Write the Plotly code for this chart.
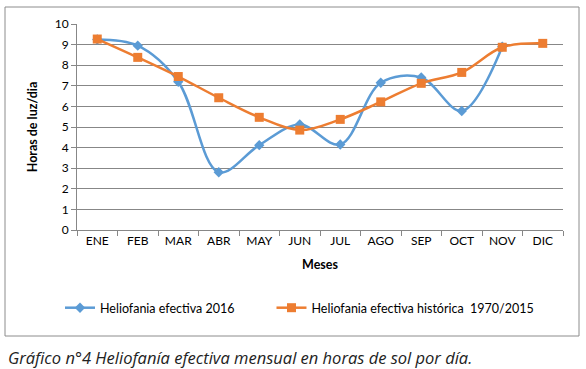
import plotly.graph_objects as go

months = ["ENE", "FEB", "MAR", "ABR", "MAY", "JUN", "JUL", "AGO", "SEP", "OCT", "NOV", "DIC"]
helio_2016 = [9.25, 8.95, 7.2, 2.8, 4.12, 5.12, 4.15, 7.15, 7.4, 5.78, 8.9, None]
helio_hist = [9.27, 8.38, 7.45, 6.42, 5.47, 4.85, 5.37, 6.22, 7.12, 7.65, 8.87, 9.06]

name_2016 = "Heliofania efectiva 2016"
name_hist = "Heliofania efectiva histórica  1970/2015"
caption = "Gráfico n°4 Heliofanía efectiva mensual en horas de sol por día."

BLUE = "#5B9BD5"
ORANGE = "#ED7D31"
GRID = "#878787"
FONT = "Lato"
PAD = "\u00a0" * 10

fig = go.Figure()
fig.add_trace(go.Scatter(
    x=months, y=helio_2016, name=name_2016 + PAD, mode="lines+markers",
    line=dict(color=BLUE, width=2.5, shape="spline", smoothing=1.0),
    marker=dict(symbol="diamond", size=8, color=BLUE),
    connectgaps=False,
))
fig.add_trace(go.Scatter(
    x=months, y=helio_hist, name=name_hist, mode="lines+markers",
    line=dict(color=ORANGE, width=2.5, shape="spline", smoothing=1.0),
    marker=dict(symbol="square", size=9, color=ORANGE),
))

fig.update_layout(
    width=586, height=369,
    margin=dict(l=77, r=23, t=24, b=139),
    paper_bgcolor="white", plot_bgcolor="white",
    font=dict(family=FONT, size=12, color="#000000"),
    showlegend=True,
    legend=dict(
        orientation="h", x=-0.035, y=-0.379, xanchor="left", yanchor="middle",
        font=dict(family=FONT, size=12.5, color="#000000"),
        itemwidth=30, bgcolor="rgba(0,0,0,0)", tracegroupgap=0,
    ),
    xaxis=dict(
        type="category", range=[-0.5, 11.5],
        showline=True, linecolor=GRID, linewidth=1,
        ticks="outside", ticklen=5, tickcolor=GRID, tickson="boundaries",
        showgrid=False, tickfont=dict(family=FONT, size=12),
        title=dict(text="<b>Meses</b>", font=dict(family=FONT, size=12.5), standoff=12),
        fixedrange=True, automargin=False,
    ),
    yaxis=dict(
        range=[0, 10], dtick=1, tick0=0,
        showline=True, linecolor=GRID, linewidth=1,
        ticks="outside", ticklen=5, tickcolor=GRID,
        showgrid=True, gridcolor=GRID, gridwidth=1, zeroline=False,
        tickfont=dict(family=FONT, size=12),
        title=dict(text="<b>Horas de luz/dia</b>", font=dict(family=FONT, size=12.5), standoff=14),
        fixedrange=True, automargin=False,
    ),
    shapes=[dict(
        type="rect", xref="paper", yref="paper",
        x0=(5 - 77) / 486, x1=(579 - 77) / 486,
        y0=(230 - 336) / 206, y1=(230 - 7) / 206,
        line=dict(color="#8c8c8c", width=1), fillcolor="rgba(0,0,0,0)", layer="below",
    )],
    annotations=[dict(
        text="<i>" + caption + "</i>", xref="paper", yref="paper",
        x=(6 - 77) / 486, y=(230 - 357) / 206, xanchor="left", yanchor="middle",
        showarrow=False, font=dict(family="Open Sans", size=16.5, color="#222222"),
    )],
)

fig.write_html("out.html", config={"displayModeBar": False},
               post_script="document.body.style.margin='0';")
